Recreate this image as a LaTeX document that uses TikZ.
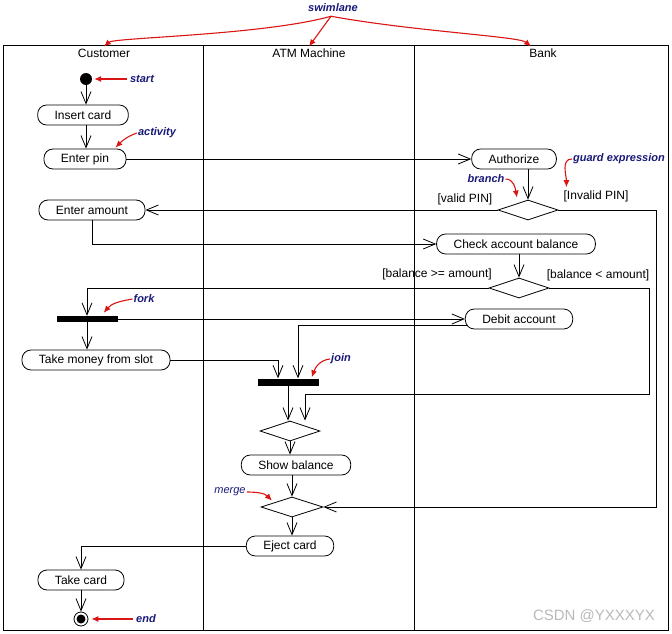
\documentclass[tikz,border=0pt]{standalone}
\usepackage{fontspec}
\setmainfont{Liberation Sans}
\usetikzlibrary{arrows.meta, shapes.geometric, calc}
\definecolor{notered}{rgb}{0.86, 0.08, 0.08}
\definecolor{noteblue}{rgb}{0.1, 0.1, 0.48}

\begin{document}
\begin{tikzpicture}[x=1pt, y=-1pt,
				flow/.style={-{Straight Barb[length=12pt,width=10pt]}, line width=0.8pt},
				note/.style={-{Latex[length=7pt,width=6pt]}, color=notered, line width=1.1pt},
				act/.style={draw, rounded corners=9pt, minimum height=20pt, inner xsep=17pt, inner ysep=0pt, line width=0.8pt},
				dec/.style={draw, diamond, minimum width=60pt, minimum height=20pt, inner sep=0pt, line width=0.8pt},
				bar/.style={fill=black, minimum width=61pt, minimum height=6pt, inner sep=0pt},
				tag/.style={color=noteblue, font=\fontsize{11}{13}\selectfont\bfseries\itshape, inner sep=1pt},
				every node/.append style={font=\fontsize{12}{14}\selectfont}]
				\useasboundingbox (0,0) rectangle (672,634);
				
				% swimlanes
				\draw[line width=0.8pt] (3,45) rectangle (668,630);
				\draw[line width=0.8pt] (203,45) -- (203,630);
				\draw[line width=0.8pt] (414,45) -- (414,630);
				\node[inner sep=2pt] (cust) at (104,53) {Customer};
				\node[inner sep=2pt] (atm) at (309,53) {ATM Machine};
				\node[inner sep=2pt] (bank) at (543,53) {Bank};
				
				% customer
				\node[circle, fill=black, minimum size=12pt, inner sep=0pt] (start) at (86,79) {};
				\node[act] (insert) at (83,115) {Insert card};
				\node[act] (pin) at (85,159) {Enter pin};
				\node[act] (amount) at (92,210) {Enter amount};
				\node[bar] (fork) at (87,319) {};
				\node[act] (money) at (96,360) {Take money from slot};
				\node[act] (take) at (81,580) {Take card};
				\node[circle, draw, minimum size=14pt, inner sep=0pt, line width=0.8pt] (stop) at (81,619) {};
				\node[circle, fill=black, minimum size=9pt, inner sep=0pt] (stopdot) at (81,619) {};
				
				% atm machine
				\node[bar, minimum height=7pt] (join) at (288,382) {};
				\node[dec] (paid) at (290,431) {};
				\node[act] (show) at (296,465) {Show balance};
				\node[dec, minimum width=62pt] (merge) at (292,507) {};
				\node[act] (eject) at (290,546) {Eject card};
				
				% bank
				\node[act] (auth) at (514,159) {Authorize};
				\node[dec] (valid) at (528,210) {};
				\node[act] (check) at (516,244) {Check account balance};
				\node[dec] (enough) at (519,288) {};
				\node[act] (debit) at (519,319) {Debit account};
				
				% guards
				\node[inner sep=0pt] (gvalid) at (465,199) {[valid PIN]};
				\node[inner sep=0pt] (ginvalid) at (596,196) {[Invalid PIN]};
				\node[inner sep=0pt] (gmore) at (437,274) {[balance >= amount]};
				\node[inner sep=0pt] (gless) at (598,275) {[balance < amount]};
				
				\draw[flow] (start) -- (start |- insert.north);
				\draw[flow] (start |- insert.south) -- (start |- pin.north);
				\draw[flow] (pin.east) -- (auth.west);
				\draw[flow] (valid.north |- auth.south) -- (valid.north);
				\draw[flow] (valid.west) -- (amount.east);
				\draw[flow] (valid.east) -- ++(98,0) |- (merge.east);
				\draw[flow] (amount.south) |- (check.west);
				\draw[flow] (enough.north |- check.south) -- (enough.north);
				\draw[flow] (enough.west) -| (fork.north);
				\draw[flow] (enough.east) -- ++(100,0) |- ($(paid.north)+(15,-26)$) -- ($(paid.north)+(15,0)$);
				\draw[flow] (fork.south) -- (fork.south |- money.north);
				\draw[flow] (fork.east) -- (debit.west);
				\draw[flow] (money.east) -| ($(join.north)+(-10,0)$);
				\draw[flow] ($(debit.west)+(2,6)$) -| ($(join.north)+(10,0)$);
				\draw[flow] (join.south) -- (join.south |- paid.north);
				\draw[flow] (paid.south) -- (paid.south |- show.north);
				\draw[flow] (merge.north |- show.south) -- (merge.north);
				\draw[flow] (merge.south) -- (merge.south |- eject.north);
				\draw[flow] (eject.west) -| (take.north);
				\draw[flow] (take.south) -- (stop.north);
				
				% notes
				\node[tag] (tswim) at (333,8) {swimlane};
				\node[tag] (tstart) at (142,79) {start};
				\node[tag] (tact) at (157,133) {activity};
				\node[tag] (tbranch) at (486,179) {branch};
				\node[tag] (tguard) at (619,159) {guard expression};
				\node[tag] (tfork) at (144,299) {fork};
				\node[tag] (tjoin) at (341,359) {join};
				\node[tag, font=\fontsize{11}{13}\selectfont\itshape] (tmerge) at (230,492) {merge};
				\node[tag] (tend) at (146,619) {end};
				
				\draw[note] ($(tswim.south)+(-2,3)$) .. controls ($(tswim.south)+(-70,22)$) and ($(cust.north)+(10,-9)$) .. (cust.north);
				\draw[note] ($(tswim.south)+(-2,3)$) -- (atm.north);
				\draw[note] ($(tswim.south)+(-2,3)$) .. controls ($(tswim.south)+(80,18)$) and ($(bank.north)+(-24,-10)$) .. ($(bank.north)+(-12,0)$);
				\draw[note, shorten <=2pt, shorten >=2pt] (tstart.west) -- (start.east);
				\draw[note] (tact.west) to[out=200, in=45] ($(pin.north east)+(-11,-1)$);
				\draw[note] (tbranch.east) to[out=0, in=100] ($(valid.north)+(-11,-2)$);
				\draw[note] (tguard.west) to[out=180, in=90] ($(ginvalid.north west)+(3,-3)$);
				\draw[note] (tfork.west) to[out=190, in=50] ($(fork.north east)+(-14,-3)$);
				\draw[note] (tjoin.west) to[out=185, in=70] ($(join.north east)+(-7,-1)$);
				\draw[note] (tmerge.east) to[out=0, in=135] ($(merge.north)+(-20,4)$);
				\draw[note, shorten <=2pt, shorten >=3pt] (tend.west) -- (stop.east);
				
				\node[color=gray!55, font=\fontsize{15}{17}\selectfont] (mark) at (594,616) {CSDN @YXXXYX};
\end{tikzpicture}
\end{document}
